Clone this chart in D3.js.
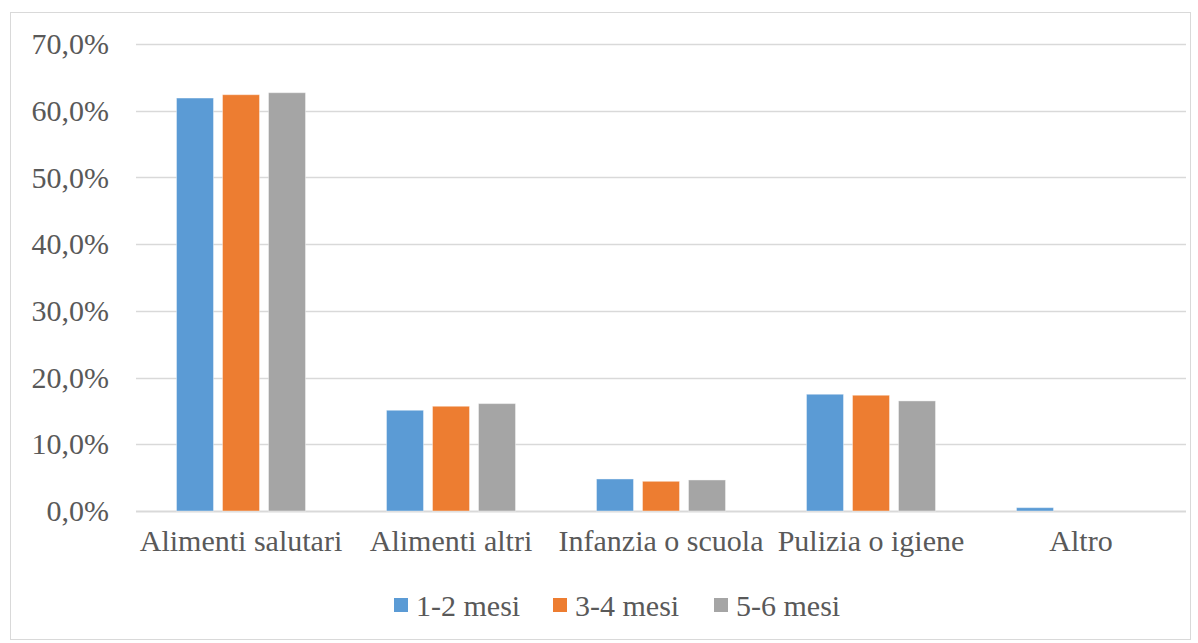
<!DOCTYPE html>
<html>
<head>
<meta charset="utf-8">
<script src="https://cdn.jsdelivr.net/npm/d3@7"></script>
<style>
  body { margin: 0; background: #fff; }
  svg text { font-family: "Liberation Serif", "Times New Roman", Times, serif; fill: #595959; font-size: 30px; }
</style>
</head>
<body>
<div id="chart"></div>
<script>
//categories on the x axis
var categories = ["Alimenti salutari", "Alimenti altri", "Infanzia o scuola", "Pulizia o igiene", "Altro"];
//series names and colours
var seriesNames = ["1-2 mesi", "3-4 mesi", "5-6 mesi"];
var seriesColors = ["#5b9bd5", "#ed7d31", "#a5a5a5"];
//values in percent, one array per series
var mesi12 = [61.9, 15.1, 4.8, 17.5, 0.5];
var mesi34 = [62.4, 15.7, 4.45, 17.35, 0];
var mesi56 = [62.7, 16.1, 4.65, 16.5, 0];
var tickValues = [0, 10, 20, 30, 40, 50, 60, 70];

var seriesValues = [mesi12, mesi34, mesi56];

var width = 1198, height = 643;
var svg = d3.select("#chart").append("svg")
  .attr("width", width)
  .attr("height", height);

//outer frame of the chart
svg.append("rect")
  .attr("x", 10.5).attr("y", 12.5)
  .attr("width", 1180).attr("height", 627)
  .attr("fill", "#fff")
  .attr("stroke", "#d9d9d9");

var plotLeft = 136, plotRight = 1186, plotTop = 44, plotBottom = 511;

var x = d3.scaleBand().domain(categories).range([plotLeft, plotRight]);
//bars in a category: about 37px wide with 9px gaps
var xInner = d3.scaleBand().domain(seriesNames).range([0, x.bandwidth()])
  .paddingInner(0.196).paddingOuter(0.88);
var y = d3.scaleLinear().domain([0, 70]).range([plotBottom, plotTop]);

//gridlines
svg.append("g").selectAll("line")
  .data(tickValues)
  .enter().append("line")
  .attr("x1", plotLeft).attr("x2", plotRight)
  .attr("y1", function(d) { return Math.round(y(d)) + 0.5; })
  .attr("y2", function(d) { return Math.round(y(d)) + 0.5; })
  .attr("stroke", "#d9d9d9")
  .attr("stroke-width", function(d) { return d === 0 ? 2 : 1.3; });

//y axis labels
var yAxis = d3.axisLeft(y).tickValues(tickValues)
  .tickSize(0).tickPadding(0)
  .tickFormat(function(d) { return d3.format(".1f")(d).replace(".", ",") + "%"; });
var yg = svg.append("g").attr("transform", "translate(" + 109 + ",0)").call(yAxis)
  .attr("font-family", null).attr("font-size", null);
yg.select(".domain").remove();

//x axis labels
var xAxis = d3.axisBottom(x).tickSize(0).tickPadding(0);
var xg = svg.append("g").attr("transform", "translate(0," + 530 + ")").call(xAxis)
  .attr("font-family", null).attr("font-size", null);
xg.select(".domain").remove();

//bars
var groups = svg.append("g").selectAll("g")
  .data(categories)
  .enter().append("g")
  .attr("transform", function(d) { return "translate(" + x(d) + ",0)"; });

groups.selectAll("rect")
  .data(function(d, i) {
    return seriesNames.map(function(s, j) { return { series: s, color: seriesColors[j], value: seriesValues[j][i] }; });
  })
  .enter().append("rect")
  .filter(function(d) { return d.value > 0; })
  .attr("x", function(d) { return xInner(d.series); })
  .attr("width", xInner.bandwidth())
  .attr("y", function(d) { return y(d.value); })
  .attr("height", function(d) { return plotBottom - y(d.value); })
  .attr("fill", function(d) { return d.color; })
  .attr("stroke", "#fff")
  .attr("stroke-opacity", 0.4);

//legend
var legendX = [394, 553, 714];
var legend = svg.append("g").selectAll("g")
  .data(seriesNames)
  .enter().append("g")
  .attr("transform", function(d, i) { return "translate(" + legendX[i] + ",598)"; });
legend.append("rect")
  .attr("width", 14).attr("height", 14)
  .attr("fill", function(d, i) { return seriesColors[i]; });
legend.append("text")
  .attr("x", 22).attr("y", 18)
  .text(function(d) { return d; });
</script>
</body>
</html>
